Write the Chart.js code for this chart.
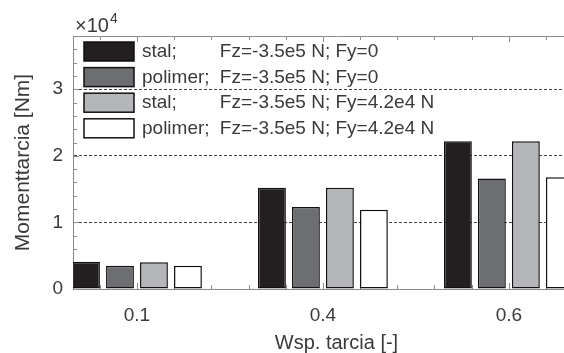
<!DOCTYPE html>
<html>
<head>
<meta charset="utf-8">
<script src="https://cdn.jsdelivr.net/npm/chart.js@4"></script>
<style>
  html, body { margin: 0; padding: 0; background: #fff; overflow: hidden; }
  #wrap { width: 600px; height: 353px; }
</style>
</head>
<body>
<div id="wrap"><canvas id="myChart"></canvas></div>
<script>
// data (Nm)
let categories = ["0.1", "0.4", "0.6"];
let seriesLabels = [
  "stal;|Fz=-3.5e5 N; Fy=0",
  "polimer;|Fz=-3.5e5 N; Fy=0",
  "stal;|Fz=-3.5e5 N; Fy=4.2e4 N",
  "polimer;|Fz=-3.5e5 N; Fy=4.2e4 N"
];
let stalFy0 = [4100, 15200, 22200];
let polimerFy0 = [3500, 12300, 16600];
let stalFy42 = [4000, 15200, 22200];
let polimerFy42 = [3500, 11900, 16800];
let yTicks = [0, 1, 2, 3]; // x 10^4

let barColors = ["#231f20", "#6d6e71", "#b4b6b9", "#ffffff"];
let textColor = "#3a3a3a";
let axisColor = "#8a8a8a";
let fontFamily = "'Liberation Sans', Arial, sans-serif";

let ctx = document.getElementById("myChart");

toPoints = (arr) => arr.map((v, i) => ({ x: i + 1, y: v }));

let allSeries = [stalFy0, polimerFy0, stalFy42, polimerFy42];
let datasets = allSeries.map((s, i) => ({
  label: seriesLabels[i],
  data: toPoints(s),
  backgroundColor: barColors[i],
  borderColor: "#111",
  borderWidth: 1.5,
  borderSkipped: false,
  categoryPercentage: 0.731,
  barPercentage: 0.82
}));

// inward ticks, top box line, legend and the x10^4 multiplier
let decorPlugin = {
  id: "decor",
  beforeDatasetsDraw: (chart) => {
    let c = chart.ctx;
    let a = chart.chartArea;
    let xs = chart.scales.x;
    let ys = chart.scales.y;
    c.save();
    c.strokeStyle = axisColor;
    c.lineWidth = 1;
    c.beginPath();
    c.moveTo(a.left, a.top + 0.5);
    c.lineTo(a.right, a.top + 0.5);
    for (let v = 0; v <= 38000; v += 2000) {
      let py = Math.round(ys.getPixelForValue(v)) + 0.5;
      let len = v % 10000 === 0 ? 6 : 4;
      c.moveTo(a.left, py);
      c.lineTo(a.left + len, py);
    }
    for (let k = 4; k <= 17; k++) {
      let v = k * 0.2;
      if (v < xs.min || v > xs.max) continue;
      let px = Math.round(xs.getPixelForValue(v)) + 0.5;
      let len = Math.abs(v - Math.round(v)) < 0.01 ? 6 : 4;
      c.moveTo(px, a.top);
      c.lineTo(px, a.top + len);
      c.moveTo(px, a.bottom);
      c.lineTo(px, a.bottom - len);
    }
    c.stroke();
    c.restore();
  },
  afterDatasetsDraw: (chart) => {
    let c = chart.ctx;
    let a = chart.chartArea;
    c.save();
    // legend
    c.font = "19px " + fontFamily;
    c.textBaseline = "middle";
    let gap = c.measureText("polimer; ").width;
    chart.data.datasets.forEach((ds, i) => {
      let top = a.top + 6 + i * 25.6;
      c.fillStyle = ds.backgroundColor;
      c.fillRect(a.left + 11, top, 50, 19);
      c.strokeStyle = "#111";
      c.lineWidth = 1.5;
      c.strokeRect(a.left + 11, top, 50, 19);
      let parts = ds.label.split("|");
      c.fillStyle = textColor;
      c.fillText(parts[0], a.left + 69, top + 10);
      c.fillText(parts[1], a.left + 69 + gap + 5, top + 10);
    });
    // exponent label
    c.textBaseline = "alphabetic";
    c.font = "20px " + fontFamily;
    c.fillText("\u00d710", a.left + 2, a.top - 4);
    c.font = "14px " + fontFamily;
    c.fillText("4", a.left + 37, a.top - 13);
    c.restore();
  }
};

let myChart = new Chart(ctx, {
  type: "bar",
  data: { datasets: datasets },
  plugins: [decorPlugin],
  options: {
    responsive: true,
    maintainAspectRatio: false,
    animation: false,
    layout: { padding: { top: 36, left: 0, right: 0, bottom: 0 } },
    plugins: {
      legend: { display: false },
      tooltip: { enabled: false }
    },
    scales: {
      x: {
        type: "linear",
        offset: false,
        min: 0.656,
        max: 3.49,
        afterBuildTicks: (scale) => {
          scale.ticks = categories.map((c, i) => ({ value: i + 1 }));
        },
        afterFit: (scale) => { scale.height = 64; },
        ticks: {
          callback: (v) => categories[Math.round(v) - 1],
          color: textColor,
          font: { family: fontFamily, size: 19 },
          padding: 15,
          maxRotation: 0
        },
        grid: { display: false, drawTicks: false },
        border: { display: true, color: axisColor, width: 1 },
        title: {
          display: true,
          text: "Wsp. tarcia [-]",
          color: textColor,
          font: { family: fontFamily, size: 20, lineHeight: 1 },
          padding: { top: 0, bottom: 0 }
        }
      },
      y: {
        min: 0,
        max: 38000,
        afterBuildTicks: (scale) => {
          scale.ticks = yTicks.map((v) => ({ value: v * 10000 }));
        },
        afterFit: (scale) => { scale.width = 73; },
        ticks: {
          callback: (v) => String(v / 10000),
          color: textColor,
          font: { family: fontFamily, size: 19 },
          padding: 10
        },
        grid: {
          drawTicks: false,
          color: (c) => (c.tick && c.tick.value === 0 ? "rgba(0,0,0,0)" : "#444"),
          lineWidth: 1
        },
        border: { display: true, color: axisColor, width: 1, dash: [3, 2] },
        title: {
          display: true,
          text: "Momenttarcia [Nm]",
          color: textColor,
          font: { family: fontFamily, size: 21, lineHeight: 1 },
          padding: { top: 13, bottom: 0 }
        }
      }
    }
  }
});
</script>
</body>
</html>
